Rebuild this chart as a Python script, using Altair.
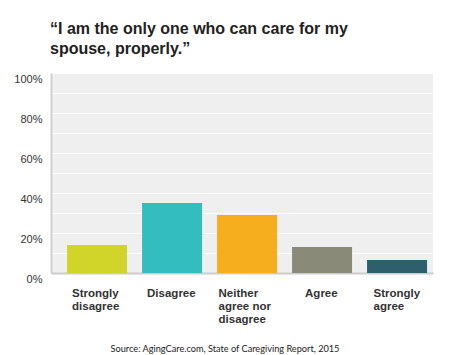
import altair as alt
import pandas as pd

categories = ["Strongly\ndisagree", "Disagree", "Neither\nagree nor\ndisagree", "Agree", "Strongly\nagree"]
values = [14, 35, 29, 13, 6.5]
colors = ["#d1d52a", "#34bdbf", "#f6ae1f", "#8a8a79", "#2e5f6d"]
y_ticks = [0, 10, 20, 30, 40, 50, 60, 70, 80, 90, 100]
title_lines = ["\u201cI am the only one who can care for my", "spouse, properly.\u201d"]
source = "Source: AgingCare.com, State of Caregiving Report, 2015"

df = pd.DataFrame({"cat": categories, "val": values})

label_offset_expr = (
    "substring(datum.value, 0, 7) == 'Neither' ? -28.5 : "
    "datum.value == 'Agree' ? -17 : "
    "datum.value == 'Strongly\\nagree' ? -23.5 : -25"
)

chart = alt.Chart(df).mark_bar().encode(
    x=alt.X("cat:N", sort=categories,
            scale=alt.Scale(paddingInner=0.2, paddingOuter=0.1467, align=0.73),
            axis=alt.Axis(title=source, labelAngle=0, labelExpr="split(datum.label, '\\n')",
                          labelFont="Liberation Sans", labelFontWeight="bold", labelFontSize=11.5,
                          labelColor="#333333", labelLineHeight=13, labelBaseline="top",
                          labelAlign="left", labelOffset={"expr": label_offset_expr},
                          labelPadding=14, ticks=False, domainColor="#cccccc", domainWidth=2,
                          titleFont="Lato", titleFontSize=9.2, titleFontWeight="normal",
                          titleColor="#222222", titleX=173.5, titleY=75, titleAlign="center",
                          titleBaseline="middle")),
    y=alt.Y("val:Q", scale=alt.Scale(domain=[0, 100], nice=False),
            axis=alt.Axis(title=None, values=y_ticks,
                          labelExpr="datum.value % 20 == 0 ? datum.value + '%' : ''",
                          labelFont="Liberation Sans", labelFontSize=11, labelColor="#333333",
                          labelBaseline="top", labelPadding=9, ticks=False,
                          domainColor="#d0d0d0", domainWidth=2,
                          gridColor="#ffffff", gridWidth=1, gridOpacity=1)),
    color=alt.Color("cat:N", sort=categories,
                    scale=alt.Scale(domain=categories, range=colors), legend=None),
).properties(
    width=382, height=200,
    autosize=alt.AutoSizeParams(type="none"),
    padding={"left": 43, "top": 65, "right": 9, "bottom": 82},
    background="#ffffff",
    title=alt.TitleParams(text=title_lines, anchor="start", frame="group",
                          font="Liberation Sans", fontSize=16, fontWeight="bold",
                          color="#222222", lineHeight=20, offset=16, dx=-1),
).configure_view(fill="#efefef", stroke=None)

chart.save("out.html", embed_options={"renderer": "svg", "actions": False})
